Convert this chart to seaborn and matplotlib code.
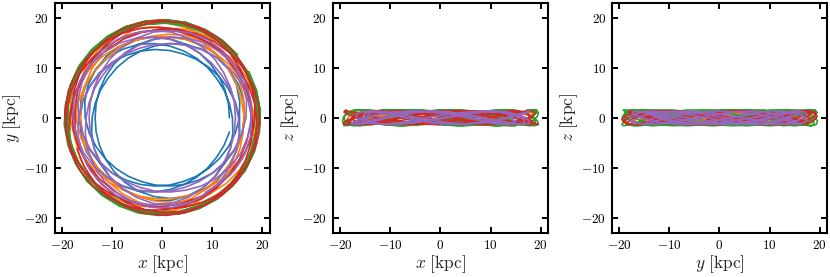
import numpy as np
import pandas as pd
import matplotlib
matplotlib.use("Agg")
import matplotlib.pyplot as plt
from matplotlib.ticker import FuncFormatter
import seaborn as sns

# ---------------- data (read/estimated from the picture) ----------------
orbit_names = ["o1", "o2", "o3", "o4", "o5"]
orbit_colors = ["#1f77b4", "#ff7f0e", "#2ca02c", "#d62728", "#9467bd"]

# azimuth step between successive samples (deg) and starting azimuth of each orbit
step_deg = 12
start_deg = [0, 110, 40, 200, 300]

# galactocentric radius R [kpc] along each orbit (one row ~ one radial oscillation)
r_o1 = [13.4, 13.5, 13.7, 14.0, 14.4, 14.9, 15.4, 15.8, 16.2, 16.4, 16.6, 16.6, 16.4, 16.2, 15.8, 15.4, 14.9, 14.4, 14.0, 13.7, 13.5,
        13.4, 13.5, 13.7, 14.0, 14.4, 14.9, 15.4, 15.8, 16.2, 16.4, 16.6, 16.6, 16.4, 16.2, 15.8, 15.4, 14.9, 14.4, 14.0, 13.7, 13.5,
        13.4, 13.5, 13.7, 14.0, 14.4, 14.9, 15.4, 15.8, 16.2, 16.4, 16.6, 16.6, 16.4, 16.2, 15.8, 15.4, 14.9, 14.4, 14.0, 13.7, 13.5,
        13.4, 13.5, 13.7, 14.0, 14.4, 14.9, 15.4, 15.8, 16.2, 16.4, 16.6, 16.6, 16.4, 16.2, 15.8, 15.4, 14.9, 14.4, 14.0, 13.7, 13.5,
        13.4, 13.5, 13.7, 14.0, 14.4, 14.9, 15.4, 15.8, 16.2, 16.4, 16.6, 16.6, 16.4, 16.2, 15.8, 15.4, 14.9, 14.4, 14.0, 13.7, 13.5,
        13.4, 13.5, 13.7, 14.0, 14.4, 14.9, 15.4, 15.8, 16.2, 16.4, 16.6, 16.6, 16.4, 16.2, 15.8, 15.4, 14.9, 14.4, 14.0, 13.7, 13.5,
        13.4, 13.5, 13.7, 14.0, 14.4, 14.9, 15.4, 15.8, 16.2, 16.4, 16.6, 16.6, 16.4, 16.2, 15.8, 15.4, 14.9, 14.4, 14.0, 13.7, 13.5,
        13.4, 13.5, 13.7]
r_o2 = [18.3, 17.9, 17.5, 17.1, 16.7, 16.4, 16.3, 16.2, 16.3, 16.4, 16.7, 17.1, 17.5, 17.9, 18.3, 18.6, 18.9, 19.0, 19.0, 18.9, 18.6,
        18.3, 17.9, 17.5, 17.1, 16.7, 16.4, 16.3, 16.2, 16.3, 16.4, 16.7, 17.1, 17.5, 17.9, 18.3, 18.6, 18.9, 19.0, 19.0, 18.9, 18.6,
        18.3, 17.9, 17.5, 17.1, 16.7, 16.4, 16.3, 16.2, 16.3, 16.4, 16.7, 17.1, 17.5, 17.9, 18.3, 18.6, 18.9, 19.0, 19.0, 18.9, 18.6,
        18.3, 17.9, 17.5, 17.1, 16.7, 16.4, 16.3, 16.2, 16.3, 16.4, 16.7, 17.1, 17.5, 17.9, 18.3, 18.6, 18.9, 19.0, 19.0, 18.9, 18.6,
        18.3, 17.9, 17.5, 17.1, 16.7, 16.4, 16.3, 16.2, 16.3, 16.4, 16.7, 17.1, 17.5, 17.9, 18.3, 18.6, 18.9, 19.0, 19.0, 18.9, 18.6,
        18.3, 17.9, 17.5, 17.1, 16.7, 16.4, 16.3, 16.2, 16.3, 16.4, 16.7, 17.1, 17.5, 17.9, 18.3, 18.6, 18.9, 19.0, 19.0, 18.9, 18.6,
        18.3, 17.9, 17.5, 17.1, 16.7, 16.4, 16.3, 16.2, 16.3, 16.4, 16.7, 17.1, 17.5, 17.9, 18.3, 18.6, 18.9, 19.0, 19.0, 18.9, 18.6,
        18.3, 17.9, 17.5]
r_o3 = [19.6, 19.6, 19.6, 19.6, 19.5, 19.4, 19.3, 19.2, 19.1, 19.0, 19.0, 18.9, 18.9, 18.9, 19.0, 19.0, 19.1, 19.2, 19.3, 19.4, 19.5,
        19.6, 19.6, 19.6, 19.6, 19.5, 19.4, 19.3, 19.2, 19.1, 19.0, 19.0, 18.9, 18.9, 18.9, 19.0, 19.0, 19.1, 19.2, 19.3, 19.4, 19.5,
        19.6, 19.6, 19.6, 19.6, 19.5, 19.4, 19.3, 19.2, 19.1, 19.0, 19.0, 18.9, 18.9, 18.9, 19.0, 19.0, 19.1, 19.2, 19.3, 19.4, 19.5,
        19.6, 19.6, 19.6, 19.6, 19.5, 19.4, 19.3, 19.2, 19.1, 19.0, 19.0, 18.9, 18.9, 18.9, 19.0, 19.0, 19.1, 19.2, 19.3, 19.4, 19.5,
        19.6, 19.6, 19.6, 19.6, 19.5, 19.4, 19.3, 19.2, 19.1, 19.0, 19.0, 18.9, 18.9, 18.9, 19.0, 19.0, 19.1, 19.2, 19.3, 19.4, 19.5,
        19.6, 19.6, 19.6, 19.6, 19.5, 19.4, 19.3, 19.2, 19.1, 19.0, 19.0, 18.9, 18.9, 18.9, 19.0, 19.0, 19.1, 19.2, 19.3, 19.4, 19.5,
        19.6, 19.6, 19.6, 19.6, 19.5, 19.4, 19.3, 19.2, 19.1, 19.0, 19.0, 18.9, 18.9, 18.9, 19.0, 19.0, 19.1, 19.2, 19.3, 19.4, 19.5,
        19.6, 19.6, 19.6]
r_o4 = [18.1, 18.4, 18.7, 19.0, 19.2, 19.4, 19.5, 19.5, 19.4, 19.2, 19.0, 18.7, 18.4, 18.1, 17.9, 17.7, 17.5, 17.5, 17.5, 17.7, 17.9,
        18.1, 18.4, 18.7, 19.0, 19.2, 19.4, 19.5, 19.5, 19.4, 19.2, 19.0, 18.7, 18.4, 18.1, 17.9, 17.7, 17.5, 17.5, 17.5, 17.7, 17.9,
        18.1, 18.4, 18.7, 19.0, 19.2, 19.4, 19.5, 19.5, 19.4, 19.2, 19.0, 18.7, 18.4, 18.1, 17.9, 17.7, 17.5, 17.5, 17.5, 17.7, 17.9,
        18.1, 18.4, 18.7, 19.0, 19.2, 19.4, 19.5, 19.5, 19.4, 19.2, 19.0, 18.7, 18.4, 18.1, 17.9, 17.7, 17.5, 17.5, 17.5, 17.7, 17.9,
        18.1, 18.4, 18.7, 19.0, 19.2, 19.4, 19.5, 19.5, 19.4, 19.2, 19.0, 18.7, 18.4, 18.1, 17.9, 17.7, 17.5, 17.5, 17.5, 17.7, 17.9,
        18.1, 18.4, 18.7, 19.0, 19.2, 19.4, 19.5, 19.5, 19.4, 19.2, 19.0, 18.7, 18.4, 18.1, 17.9, 17.7, 17.5, 17.5, 17.5, 17.7, 17.9,
        18.1, 18.4, 18.7, 19.0, 19.2, 19.4, 19.5, 19.5, 19.4, 19.2, 19.0, 18.7, 18.4, 18.1, 17.9, 17.7, 17.5, 17.5, 17.5, 17.7, 17.9,
        18.1, 18.4, 18.7]
r_o5 = [17.2, 17.5, 17.8, 18.0, 18.0, 17.8, 17.5, 17.2, 16.7, 16.2, 15.7, 15.2, 14.9, 14.7, 14.6, 14.7, 14.9, 15.2, 15.7, 16.2, 16.7,
        17.2, 17.5, 17.8, 18.0, 18.0, 17.8, 17.5, 17.2, 16.7, 16.2, 15.7, 15.2, 14.9, 14.7, 14.6, 14.7, 14.9, 15.2, 15.7, 16.2, 16.7,
        17.2, 17.5, 17.8, 18.0, 18.0, 17.8, 17.5, 17.2, 16.7, 16.2, 15.7, 15.2, 14.9, 14.7, 14.6, 14.7, 14.9, 15.2, 15.7, 16.2, 16.7,
        17.2, 17.5, 17.8, 18.0, 18.0, 17.8, 17.5, 17.2, 16.7, 16.2, 15.7, 15.2, 14.9, 14.7, 14.6, 14.7, 14.9, 15.2, 15.7, 16.2, 16.7,
        17.2, 17.5, 17.8, 18.0, 18.0, 17.8, 17.5, 17.2, 16.7, 16.2, 15.7, 15.2, 14.9, 14.7, 14.6, 14.7, 14.9, 15.2, 15.7, 16.2, 16.7,
        17.2, 17.5, 17.8, 18.0, 18.0, 17.8, 17.5, 17.2, 16.7, 16.2, 15.7, 15.2, 14.9, 14.7, 14.6, 14.7, 14.9, 15.2, 15.7, 16.2, 16.7,
        17.2, 17.5, 17.8, 18.0, 18.0, 17.8, 17.5, 17.2, 16.7, 16.2, 15.7, 15.2, 14.9, 14.7, 14.6, 14.7, 14.9, 15.2, 15.7, 16.2, 16.7,
        17.2, 17.5, 17.8]

# height above the plane z [kpc] along each orbit (one row ~ one vertical oscillation)
z_o1 = [0.0, 0.5, 0.9, 1.0, 0.9, 0.5, 0.0, -0.5, -0.9, -1.0, -0.9, -0.5,
        0.0, 0.5, 0.9, 1.0, 0.9, 0.5, 0.0, -0.5, -0.9, -1.0, -0.9, -0.5,
        0.0, 0.5, 0.9, 1.0, 0.9, 0.5, 0.0, -0.5, -0.9, -1.0, -0.9, -0.5,
        0.0, 0.5, 0.9, 1.0, 0.9, 0.5, 0.0, -0.5, -0.9, -1.0, -0.9, -0.5,
        0.0, 0.5, 0.9, 1.0, 0.9, 0.5, 0.0, -0.5, -0.9, -1.0, -0.9, -0.5,
        0.0, 0.5, 0.9, 1.0, 0.9, 0.5, 0.0, -0.5, -0.9, -1.0, -0.9, -0.5,
        0.0, 0.5, 0.9, 1.0, 0.9, 0.5, 0.0, -0.5, -0.9, -1.0, -0.9, -0.5,
        0.0, 0.5, 0.9, 1.0, 0.9, 0.5, 0.0, -0.5, -0.9, -1.0, -0.9, -0.5,
        0.0, 0.5, 0.9, 1.0, 0.9, 0.5, 0.0, -0.5, -0.9, -1.0, -0.9, -0.5,
        0.0, 0.5, 0.9, 1.0, 0.9, 0.5, 0.0, -0.5, -0.9, -1.0, -0.9, -0.5,
        0.0, 0.5, 0.9, 1.0, 0.9, 0.5, 0.0, -0.5, -0.9, -1.0, -0.9, -0.5,
        0.0, 0.5, 0.9, 1.0, 0.9, 0.5, 0.0, -0.5, -0.9, -1.0, -0.9, -0.5,
        0.0, 0.5, 0.9, 1.0, 0.9, 0.5]
z_o2 = [1.2, 1.0, 0.5, -0.2, -0.8, -1.15, -1.15, -0.8, -0.2, 0.5, 1.0,
        1.2, 1.0, 0.5, -0.2, -0.8, -1.15, -1.15, -0.8, -0.2, 0.5, 1.0,
        1.2, 1.0, 0.5, -0.2, -0.8, -1.15, -1.15, -0.8, -0.2, 0.5, 1.0,
        1.2, 1.0, 0.5, -0.2, -0.8, -1.15, -1.15, -0.8, -0.2, 0.5, 1.0,
        1.2, 1.0, 0.5, -0.2, -0.8, -1.15, -1.15, -0.8, -0.2, 0.5, 1.0,
        1.2, 1.0, 0.5, -0.2, -0.8, -1.15, -1.15, -0.8, -0.2, 0.5, 1.0,
        1.2, 1.0, 0.5, -0.2, -0.8, -1.15, -1.15, -0.8, -0.2, 0.5, 1.0,
        1.2, 1.0, 0.5, -0.2, -0.8, -1.15, -1.15, -0.8, -0.2, 0.5, 1.0,
        1.2, 1.0, 0.5, -0.2, -0.8, -1.15, -1.15, -0.8, -0.2, 0.5, 1.0,
        1.2, 1.0, 0.5, -0.2, -0.8, -1.15, -1.15, -0.8, -0.2, 0.5, 1.0,
        1.2, 1.0, 0.5, -0.2, -0.8, -1.15, -1.15, -0.8, -0.2, 0.5, 1.0,
        1.2, 1.0, 0.5, -0.2, -0.8, -1.15, -1.15, -0.8, -0.2, 0.5, 1.0,
        1.2, 1.0, 0.5, -0.2, -0.8, -1.15, -1.15, -0.8, -0.2, 0.5, 1.0,
        1.2, 1.0, 0.5, -0.2, -0.8, -1.15, -1.15]
z_o3 = [-1.6, -1.35, -0.7, 0.2, 1.05, 1.55, 1.55, 1.05, 0.2, -0.7, -1.35,
        -1.6, -1.35, -0.7, 0.2, 1.05, 1.55, 1.55, 1.05, 0.2, -0.7, -1.35,
        -1.6, -1.35, -0.7, 0.2, 1.05, 1.55, 1.55, 1.05, 0.2, -0.7, -1.35,
        -1.6, -1.35, -0.7, 0.2, 1.05, 1.55, 1.55, 1.05, 0.2, -0.7, -1.35,
        -1.6, -1.35, -0.7, 0.2, 1.05, 1.55, 1.55, 1.05, 0.2, -0.7, -1.35,
        -1.6, -1.35, -0.7, 0.2, 1.05, 1.55, 1.55, 1.05, 0.2, -0.7, -1.35,
        -1.6, -1.35, -0.7, 0.2, 1.05, 1.55, 1.55, 1.05, 0.2, -0.7, -1.35,
        -1.6, -1.35, -0.7, 0.2, 1.05, 1.55, 1.55, 1.05, 0.2, -0.7, -1.35,
        -1.6, -1.35, -0.7, 0.2, 1.05, 1.55, 1.55, 1.05, 0.2, -0.7, -1.35,
        -1.6, -1.35, -0.7, 0.2, 1.05, 1.55, 1.55, 1.05, 0.2, -0.7, -1.35,
        -1.6, -1.35, -0.7, 0.2, 1.05, 1.55, 1.55, 1.05, 0.2, -0.7, -1.35,
        -1.6, -1.35, -0.7, 0.2, 1.05, 1.55, 1.55, 1.05, 0.2, -0.7, -1.35,
        -1.6, -1.35, -0.7, 0.2, 1.05, 1.55, 1.55, 1.05, 0.2, -0.7, -1.35,
        -1.6, -1.35, -0.7, 0.2, 1.05, 1.55, 1.55]
z_o4 = [0.0, -0.6, -1.1, -1.35, -1.25, -0.9, -0.3, 0.3, 0.9, 1.25, 1.35, 1.1, 0.6,
        0.0, -0.6, -1.1, -1.35, -1.25, -0.9, -0.3, 0.3, 0.9, 1.25, 1.35, 1.1, 0.6,
        0.0, -0.6, -1.1, -1.35, -1.25, -0.9, -0.3, 0.3, 0.9, 1.25, 1.35, 1.1, 0.6,
        0.0, -0.6, -1.1, -1.35, -1.25, -0.9, -0.3, 0.3, 0.9, 1.25, 1.35, 1.1, 0.6,
        0.0, -0.6, -1.1, -1.35, -1.25, -0.9, -0.3, 0.3, 0.9, 1.25, 1.35, 1.1, 0.6,
        0.0, -0.6, -1.1, -1.35, -1.25, -0.9, -0.3, 0.3, 0.9, 1.25, 1.35, 1.1, 0.6,
        0.0, -0.6, -1.1, -1.35, -1.25, -0.9, -0.3, 0.3, 0.9, 1.25, 1.35, 1.1, 0.6,
        0.0, -0.6, -1.1, -1.35, -1.25, -0.9, -0.3, 0.3, 0.9, 1.25, 1.35, 1.1, 0.6,
        0.0, -0.6, -1.1, -1.35, -1.25, -0.9, -0.3, 0.3, 0.9, 1.25, 1.35, 1.1, 0.6,
        0.0, -0.6, -1.1, -1.35, -1.25, -0.9, -0.3, 0.3, 0.9, 1.25, 1.35, 1.1, 0.6,
        0.0, -0.6, -1.1, -1.35, -1.25, -0.9, -0.3, 0.3, 0.9, 1.25, 1.35, 1.1, 0.6,
        0.0, -0.6, -1.1, -1.35, -1.25, -0.9, -0.3]
z_o5 = [1.3, 1.15, 0.75, 0.15, -0.45, -1.0, -1.25, -1.25, -1.0, -0.45, 0.15, 0.75, 1.15,
        1.3, 1.15, 0.75, 0.15, -0.45, -1.0, -1.25, -1.25, -1.0, -0.45, 0.15, 0.75, 1.15,
        1.3, 1.15, 0.75, 0.15, -0.45, -1.0, -1.25, -1.25, -1.0, -0.45, 0.15, 0.75, 1.15,
        1.3, 1.15, 0.75, 0.15, -0.45, -1.0, -1.25, -1.25, -1.0, -0.45, 0.15, 0.75, 1.15,
        1.3, 1.15, 0.75, 0.15, -0.45, -1.0, -1.25, -1.25, -1.0, -0.45, 0.15, 0.75, 1.15,
        1.3, 1.15, 0.75, 0.15, -0.45, -1.0, -1.25, -1.25, -1.0, -0.45, 0.15, 0.75, 1.15,
        1.3, 1.15, 0.75, 0.15, -0.45, -1.0, -1.25, -1.25, -1.0, -0.45, 0.15, 0.75, 1.15,
        1.3, 1.15, 0.75, 0.15, -0.45, -1.0, -1.25, -1.25, -1.0, -0.45, 0.15, 0.75, 1.15,
        1.3, 1.15, 0.75, 0.15, -0.45, -1.0, -1.25, -1.25, -1.0, -0.45, 0.15, 0.75, 1.15,
        1.3, 1.15, 0.75, 0.15, -0.45, -1.0, -1.25, -1.25, -1.0, -0.45, 0.15, 0.75, 1.15,
        1.3, 1.15, 0.75, 0.15, -0.45, -1.0, -1.25, -1.25, -1.0, -0.45, 0.15, 0.75, 1.15,
        1.3, 1.15, 0.75, 0.15, -0.45, -1.0, -1.25]

r_all = [r_o1, r_o2, r_o3, r_o4, r_o5]
z_all = [z_o1, z_o2, z_o3, z_o4, z_o5]

tick_values = [-20, -10, 0, 10, 20]
x_labels = [r"$x\ [\mathrm{kpc}]$", r"$x\ [\mathrm{kpc}]$", r"$y\ [\mathrm{kpc}]$"]
y_labels = [r"$y\ [\mathrm{kpc}]$", r"$z\ [\mathrm{kpc}]$", r"$z\ [\mathrm{kpc}]$"]

# ---------------- build long-form table ----------------
frames = []
for name, r, z, s in zip(orbit_names, r_all, z_all, start_deg):
    n = min(len(r), len(z))
    r = np.asarray(r[:n], float)
    phi = np.deg2rad(s + step_deg * np.arange(n))
    frames.append(pd.DataFrame({"orbit": name,
                                "x": r * np.cos(phi),
                                "y": r * np.sin(phi),
                                "z": np.asarray(z[:n], float)}))
df = pd.concat(frames, ignore_index=True)

# ---------------- style ----------------
sns.set_style("ticks")
plt.rcParams.update({
    "font.family": ["DejaVu Serif"],
    "mathtext.fontset": "cm",
    "xtick.direction": "in",
    "ytick.direction": "in",
    "xtick.top": True,
    "ytick.right": True,
    "xtick.major.size": 4.5,
    "ytick.major.size": 4.5,
    "xtick.major.width": 1.4,
    "ytick.major.width": 1.4,
    "axes.linewidth": 1.5,
    "axes.edgecolor": "black",
})

fig = plt.figure(figsize=(8.3, 2.77), dpi=100)
lefts = [0.0657, 0.4008, 0.737]
axes = [fig.add_axes([l, 0.1588, 0.2596, 0.8321]) for l in lefts]

pairs = [("x", "y"), ("x", "z"), ("y", "z")]
fmt = FuncFormatter(lambda v, p: r"$%d$" % int(round(v)))
for ax, (cx, cy), xl, yl in zip(axes, pairs, x_labels, y_labels):
    sns.lineplot(data=df, x=cx, y=cy, hue="orbit", hue_order=orbit_names,
                 palette=orbit_colors, sort=False, estimator=None,
                 linewidth=1.2, legend=False, ax=ax)
    ax.set_xlim(-21.5, 21.5)
    ax.set_ylim(-23, 23)
    ax.set_xticks(tick_values)
    ax.set_yticks(tick_values)
    ax.xaxis.set_major_formatter(fmt)
    ax.yaxis.set_major_formatter(fmt)
    ax.tick_params(labelsize=9.5, pad=4, colors="black")
    ax.set_xlabel(xl, fontsize=12.5, labelpad=1)
    ax.set_ylabel(yl, fontsize=12.5, labelpad=1)
    for sp in ax.spines.values():
        sp.set_visible(True)
        sp.set_linewidth(1.5)

fig.savefig("out.png", dpi=100)
